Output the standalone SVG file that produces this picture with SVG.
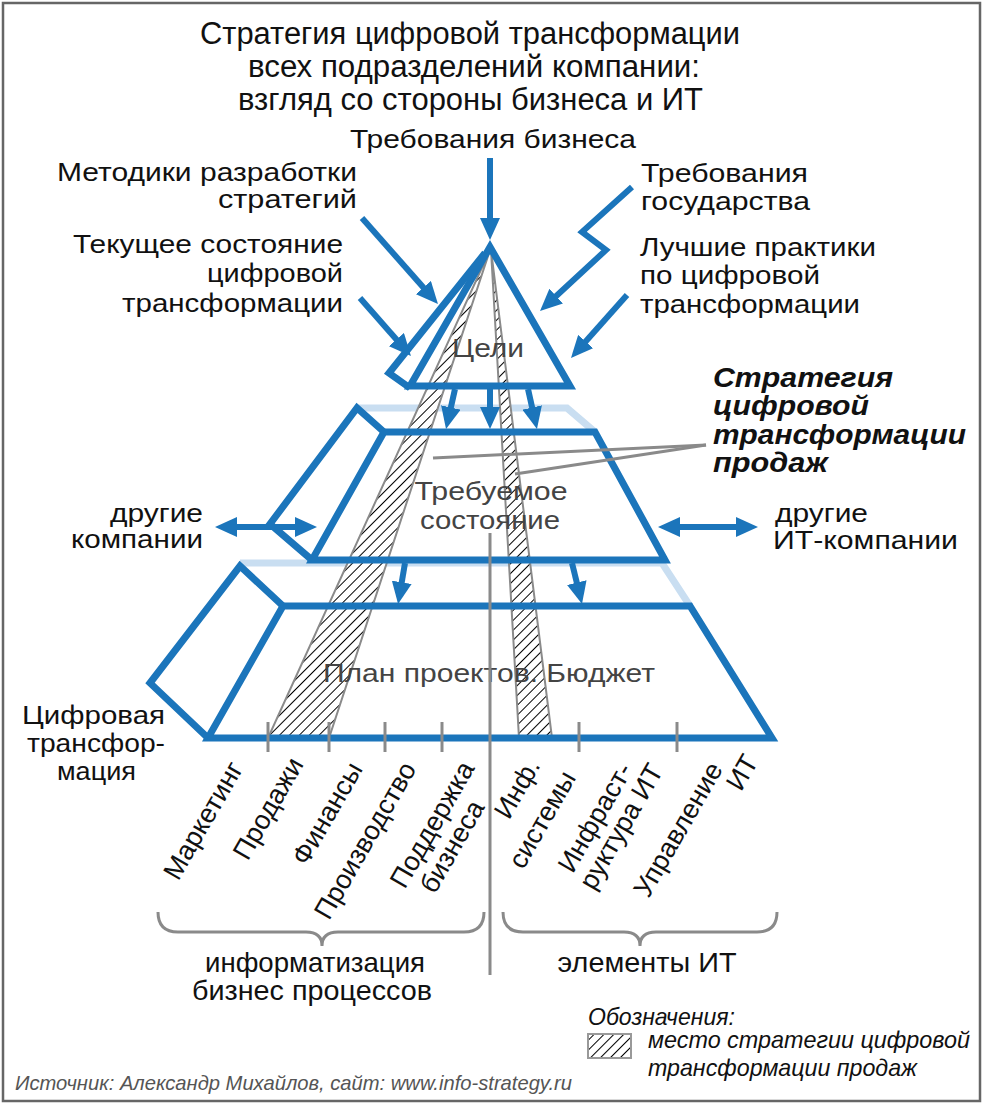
<svg xmlns="http://www.w3.org/2000/svg" width="1008" height="1106" viewBox="0 0 1008 1106">
<defs>
<style>
.t{font-family:'Liberation Sans',Arial,sans-serif;font-size:26px;fill:#111}
.s{font-size:25px}
.n{font-family:'Liberation Sans Narrow','Liberation Sans',Arial,sans-serif;fill:#111}
.g{fill:#444}
.bi{font-family:'Liberation Sans',Arial,sans-serif;font-size:27px;font-weight:bold;font-style:italic;fill:#111}
.it{font-style:italic}
.blue{fill:none;stroke:#1B75BB;stroke-width:7;stroke-linejoin:miter}
.lb{fill:none;stroke:#C9DEF1;stroke-width:7}
.ar{fill:none;stroke:#1B75BB;stroke-width:6;marker-end:url(#ah)}
.dar{fill:none;stroke:#1B75BB;stroke-width:6;marker-end:url(#ah);marker-start:url(#ah)}
.gl{fill:none;stroke:#8A8A8A;stroke-width:3}
.strip{fill:url(#hatch);stroke:#8A8A8A;stroke-width:2}
.rot{font-family:'Liberation Sans',Arial,sans-serif;font-size:27px;fill:#111;text-anchor:middle}
</style>
<pattern id="hatch" width="7" height="7" patternUnits="userSpaceOnUse" patternTransform="rotate(45)">
<rect width="7" height="7" fill="#fff"/>
<line x1="3.5" y1="0" x2="3.5" y2="7" stroke="#000" stroke-width="1"/>
</pattern>
<marker id="ah" viewBox="0 0 22 20" refX="8" refY="10" markerWidth="22" markerHeight="20" markerUnits="userSpaceOnUse" orient="auto-start-reverse">
<path d="M0,0 L22,10 L0,20 z" fill="#1B75BB"/>
</marker>
</defs>
<rect x="3" y="3" width="977" height="1098" fill="#fff" stroke="#666" stroke-width="2.5"/>

<g id="title">
<text class="n" font-size="31" x="470" y="44" text-anchor="middle" textLength="540" lengthAdjust="spacingAndGlyphs">Стратегия цифровой трансформации</text>
<text class="n" font-size="31" x="474" y="77" text-anchor="middle" textLength="452" lengthAdjust="spacingAndGlyphs">всех подразделений компании:</text>
<text class="n" font-size="31" x="470.5" y="110" text-anchor="middle" textLength="465" lengthAdjust="spacingAndGlyphs">взгляд со стороны бизнеса и ИТ</text>
</g>

<g id="back-edges">
<polyline class="lb" points="357,408 567,408 595,432"/>
<polyline class="lb" points="240,563 662,563 690,606"/>
</g>

<g id="strategy-strips">
<polygon class="strip" points="490,250 268,738 329,738"/>
<polygon class="strip" points="491,250 519,738 552,738"/>
</g>

<g id="goals">
<polygon class="blue" points="490,247 570,386 410,386"/>
<polyline class="blue" points="485,253 389,373 410,388"/>
<text class="t g" font-size="27" x="488" y="357" text-anchor="middle" textLength="72" lengthAdjust="spacingAndGlyphs">Цели</text>
</g>

<g id="required-state">
<polygon class="blue" points="384,432 595,432 665,560 312,560"/>
<polyline class="blue" points="384,432 357,408 270,524 312,560"/>
<text class="t g" x="491" y="500" text-anchor="middle" textLength="153" lengthAdjust="spacingAndGlyphs">Требуемое</text>
<text class="t g" x="490" y="529" text-anchor="middle" textLength="140" lengthAdjust="spacingAndGlyphs">состояние</text>
</g>

<g id="plan">
<polygon class="blue" points="283,606 690,606 772,738 208,738"/>
<polyline class="blue" points="283,606 240,566 150,683 208,738"/>
<text class="t g" x="489" y="682" text-anchor="middle" textLength="332" lengthAdjust="spacingAndGlyphs">План проектов. Бюджет</text>
</g>

<g id="connectors">
<line class="ar" x1="490" y1="158" x2="490" y2="226"/>
<line class="ar" x1="362" y1="218" x2="428.7" y2="293.5"/>
<line class="ar" x1="360" y1="298" x2="401.7" y2="345.5"/>
<polyline class="ar" points="632,187 582,232 606,250 550.3,301.5"/>
<line class="ar" x1="627" y1="295" x2="580.3" y2="347.5"/>
<line class="ar" x1="455" y1="389" x2="449.1" y2="415.3"/>
<line class="ar" x1="490" y1="389" x2="490" y2="415"/>
<line class="ar" x1="528" y1="389" x2="533.9" y2="415.3"/>
<line class="ar" x1="405" y1="563" x2="400.4" y2="590.2"/>
<line class="ar" x1="572" y1="563" x2="578.7" y2="590.4"/>
<line class="dar" x1="229" y1="527" x2="303" y2="527"/>
<line class="dar" x1="672" y1="527" x2="744" y2="527"/>
<line class="gl" x1="433" y1="458" x2="706" y2="445"/>
<line class="gl" x1="515" y1="474" x2="706" y2="445"/>
<line class="gl" x1="490" y1="533" x2="490" y2="975"/>
<line class="gl" x1="268" y1="722" x2="268" y2="752"/>
<line class="gl" x1="329" y1="722" x2="329" y2="752"/>
<line class="gl" x1="385" y1="722" x2="385" y2="752"/>
<line class="gl" x1="442" y1="722" x2="442" y2="752"/>
<line class="gl" x1="579" y1="722" x2="579" y2="752"/>
<line class="gl" x1="677" y1="722" x2="677" y2="752"/>
<path class="gl" d="M158,912 Q158,932 178,932 L306,932 Q322,932 322,946 Q322,932 338,932 L464,932 Q484,932 484,912"/>
<path class="gl" d="M503,912 Q503,932 523,932 L624,932 Q640,932 640,946 Q640,932 656,932 L757,932 Q777,932 777,912"/>
</g>

<g id="inputs">
<text class="t" x="350" y="148" textLength="286" lengthAdjust="spacingAndGlyphs">Требования бизнеса</text>
<text class="t" x="57" y="181" textLength="300" lengthAdjust="spacingAndGlyphs">Методики разработки</text>
<text class="t" x="218" y="208" textLength="139" lengthAdjust="spacingAndGlyphs">стратегий</text>
<text class="t" x="73" y="253" textLength="270" lengthAdjust="spacingAndGlyphs">Текущее состояние</text>
<text class="t" x="207" y="282" textLength="136" lengthAdjust="spacingAndGlyphs">цифровой</text>
<text class="t" x="122" y="312" textLength="221" lengthAdjust="spacingAndGlyphs">трансформации</text>
<text class="t" x="641" y="182" textLength="167" lengthAdjust="spacingAndGlyphs">Требования</text>
<text class="t" x="641" y="210" textLength="169" lengthAdjust="spacingAndGlyphs">государства</text>
<text class="t" x="640" y="256" textLength="236" lengthAdjust="spacingAndGlyphs">Лучшие практики</text>
<text class="t" x="640" y="284" textLength="180" lengthAdjust="spacingAndGlyphs">по цифровой</text>
<text class="t" x="640" y="313" textLength="220" lengthAdjust="spacingAndGlyphs">трансформации</text>
</g>

<g id="sales-strategy">
<text class="bi" x="713" y="387" textLength="180" lengthAdjust="spacingAndGlyphs">Стратегия</text>
<text class="bi" x="713" y="415" textLength="156" lengthAdjust="spacingAndGlyphs">цифровой</text>
<text class="bi" x="713" y="444" textLength="253" lengthAdjust="spacingAndGlyphs">трансформации</text>
<text class="bi" x="713" y="472" textLength="115" lengthAdjust="spacingAndGlyphs">продаж</text>
</g>

<g id="other-companies">
<text class="t s" x="110" y="522" textLength="93" lengthAdjust="spacingAndGlyphs">другие</text>
<text class="t s" x="71" y="548" textLength="132" lengthAdjust="spacingAndGlyphs">компании</text>
</g>
<g id="other-it-companies">
<text class="t s" x="775" y="522" textLength="93" lengthAdjust="spacingAndGlyphs">другие</text>
<text class="t s" x="773" y="549" textLength="185" lengthAdjust="spacingAndGlyphs">ИТ-компании</text>
</g>
<g id="digital-transformation">
<text class="t" x="22" y="724" textLength="143" lengthAdjust="spacingAndGlyphs">Цифровая</text>
<text class="t" x="27" y="752" textLength="138" lengthAdjust="spacingAndGlyphs">трансфор-</text>
<text class="t" x="57" y="780" textLength="79" lengthAdjust="spacingAndGlyphs">мация</text>
</g>

<g id="departments">
<text class="rot" transform="translate(211,825) rotate(-60)">Маркетинг</text>
<text class="rot" transform="translate(276,813) rotate(-60)">Продажи</text>
<text class="rot" transform="translate(335,818) rotate(-60)">Финансы</text>
<text class="rot" transform="translate(373,845) rotate(-60)">Производство</text>
<text class="rot" transform="translate(440,829) rotate(-60)">Поддержка</text>
<text class="rot" transform="translate(460,851) rotate(-60)">бизнеса</text>
<text class="rot" transform="translate(525,793) rotate(-60)">Инф.</text>
<text class="rot" transform="translate(550,824) rotate(-60)">системы</text>
<text class="rot" transform="translate(603,822) rotate(-60)">Инфраст-</text>
<text class="rot" transform="translate(629,831) rotate(-60)">руктура ИТ</text>
<text class="rot" transform="translate(686,834) rotate(-60)">Управление</text>
<text class="rot" transform="translate(750,777) rotate(-60)">ИТ</text>
</g>

<g id="groups">
<text class="n" font-size="28" x="315" y="972" text-anchor="middle" textLength="220" lengthAdjust="spacingAndGlyphs">информатизация</text>
<text class="n" font-size="28" x="312" y="1000" text-anchor="middle" textLength="240" lengthAdjust="spacingAndGlyphs">бизнес процессов</text>
<text class="n" font-size="28" x="647" y="972" text-anchor="middle" textLength="179" lengthAdjust="spacingAndGlyphs">элементы ИТ</text>
</g>

<g id="legend">
<text class="n it" font-size="24" x="588" y="1025" textLength="147" lengthAdjust="spacingAndGlyphs">Обозначения:</text>
<rect x="588" y="1034" width="43" height="24" fill="url(#hatch)" stroke="#999" stroke-width="2"/>
<text class="n it" font-size="24" x="648" y="1048" textLength="322" lengthAdjust="spacingAndGlyphs">место стратегии цифровой</text>
<text class="n it" font-size="24" x="648" y="1076" textLength="269" lengthAdjust="spacingAndGlyphs">трансформации продаж</text>
</g>

<g id="source">
<text class="n it" font-size="21" x="15" y="1090" style="fill:#555" textLength="557" lengthAdjust="spacingAndGlyphs">Источник: Александр Михайлов, сайт: www.info-strategy.ru</text>
</g>
</svg>
